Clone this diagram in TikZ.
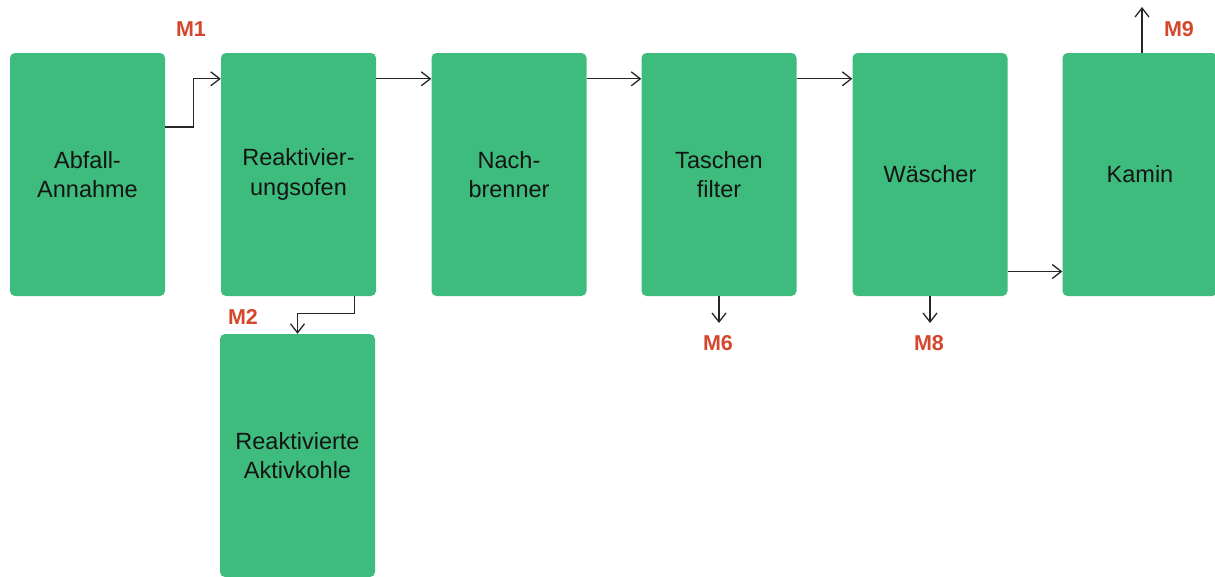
\documentclass[tikz,border=0pt]{standalone}
\usepackage{fontspec}
\setmainfont{Liberation Sans}
\usetikzlibrary{arrows.meta}
\definecolor{boxgreen}{HTML}{3EBC7E}
\definecolor{mred}{HTML}{D4472C}
\definecolor{txt}{HTML}{141414}
\tikzset{
  proc/.style={fill=boxgreen, draw=none, rounded corners=5pt, minimum width=155pt, minimum height=243pt,
    inner sep=0pt, align=center, text=txt, font=\fontsize{23.5}{29.5}\selectfont},
  mlabel/.style={text=mred, font=\bfseries\fontsize{21.5}{24}\selectfont, inner sep=0pt},
  flow/.style={draw=black!85, line width=1.3pt, -{Straight Barb[length=9pt,width=14pt,line width=1.3pt]}}
}
\begin{document}
\begin{tikzpicture}[x=1pt,y=-1pt]
\useasboundingbox (0,0) rectangle (1215,576);
\node[proc] (A)  at (87.5,174.5) {Abfall-\\Annahme};
\node[proc] (R)  at (298.5,174.5) {Reaktivier-\\ungsofen};
\node[proc] (N)  at (509,174.5) {Nach-\\brenner};
\node[proc] (T)  at (719,174.5) {Taschen\\filter};
\node[proc] (W)  at (930,174.5) {Wäscher};
\node[proc] (K)  at (1140,174.5) {Kamin};
\node[proc] (AK) at (297.5,455.5) {Reaktivierte\\Aktivkohle};

\node[mlabel] (m1) at (191,29) {M1};
\node[mlabel] (m2) at (243,317) {M2};
\node[mlabel] (m6) at (718,343) {M6};
\node[mlabel] (m8) at (929,343) {M8};
\node[mlabel] (m9) at (1179,29) {M9};

\coordinate (t6) at (719,323);
\coordinate (t8) at (930,323);
\coordinate (t9) at (1142,7);

\draw[flow] ([yshift=47.5pt]A.east) -- ++(28,0) |- ([yshift=-26pt]R.north west);
\draw[flow] ([yshift=-26pt]R.north east) -- ([yshift=-26pt]N.north west);
\draw[flow] ([yshift=-26pt]N.north east) -- ([yshift=-26pt]T.north west);
\draw[flow] ([yshift=-26pt]T.north east) -- ([yshift=-26pt]W.north west);
\draw[flow] ([yshift=-97pt]W.east) -- ([yshift=-97pt]K.west);
\draw[flow] ([xshift=-22pt]R.south east) -- ++(0,17) -| (AK.north);
\draw[flow] (T.south) -- (t6);
\draw[flow] (W.south) -- (t8);
\draw[flow] ([xshift=2pt]K.north) -- (t9);
\end{tikzpicture}
\end{document}
